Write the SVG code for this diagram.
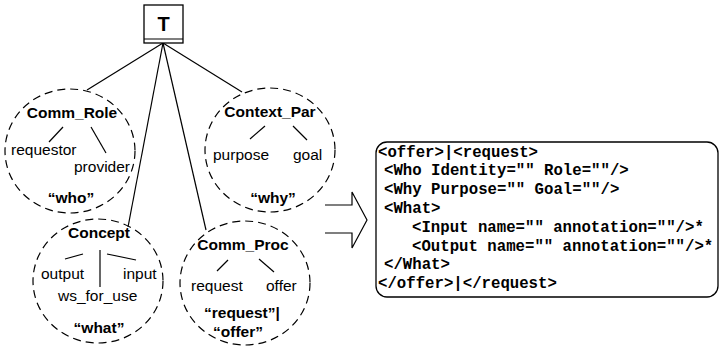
<svg xmlns="http://www.w3.org/2000/svg" width="720" height="349" viewBox="0 0 720 349">
  <style>
    .lbl { font-family: "Liberation Sans", Arial, sans-serif; font-size: 15.5px; fill: #000; }
    .b { font-weight: bold; }
    .mid { text-anchor: middle; }
    .code { font-family: "Liberation Mono", "Courier New", monospace; font-weight: bold; font-size: 15.7px; fill: #000; }
    .ring { fill: none; stroke: #000; stroke-width: 1.2; stroke-dasharray: 8 5; }
    .ln { stroke: #000; stroke-width: 1.2; fill: none; }
  </style>
  <rect width="720" height="349" fill="#fff"/>

  <!-- connectors from the root -->
  <g id="connectors" class="ln">
    <line x1="163" y1="43" x2="87" y2="90"/>
    <line x1="163" y1="43" x2="242" y2="92"/>
    <line x1="163" y1="43" x2="128" y2="227"/>
    <line x1="163" y1="43" x2="206" y2="230"/>
  </g>

  <!-- root -->
  <g id="T">
    <rect x="144" y="5" width="39" height="38" fill="#fff" stroke="#000" stroke-width="1.3"/>
    <line x1="144" y1="39" x2="183" y2="39" class="ln"/>
    <text x="163.5" y="31" class="lbl b mid" style="font-size:20px">T</text>
  </g>

  <!-- who -->
  <g id="Comm_Role">
    <ellipse cx="70" cy="151" rx="65" ry="62" class="ring"/>
    <text x="72" y="118" class="lbl b mid">Comm_Role</text>
    <line x1="63" y1="127" x2="49" y2="142" class="ln"/>
    <line x1="91" y1="127" x2="106" y2="153" class="ln"/>
    <text x="11" y="155" class="lbl">requestor</text>
    <text x="74" y="172" class="lbl">provider</text>
    <text x="71" y="203" class="lbl b mid">“who”</text>
  </g>

  <!-- why -->
  <g id="Context_Par">
    <ellipse cx="270" cy="150" rx="65" ry="62" class="ring"/>
    <text x="270" y="117" class="lbl b mid">Context_Par</text>
    <line x1="265" y1="126" x2="250" y2="139" class="ln"/>
    <line x1="293" y1="126" x2="307" y2="140" class="ln"/>
    <text x="213" y="160" class="lbl">purpose</text>
    <text x="293" y="160" class="lbl">goal</text>
    <text x="273" y="203" class="lbl b mid">“why”</text>
  </g>

  <!-- what -->
  <g id="Concept">
    <ellipse cx="98" cy="281" rx="65" ry="62" class="ring"/>
    <text x="99" y="238" class="lbl b mid">Concept</text>
    <line x1="65" y1="259" x2="83" y2="254" class="ln"/>
    <line x1="100" y1="250" x2="100" y2="287" class="ln"/>
    <line x1="107" y1="254" x2="136" y2="260" class="ln"/>
    <text x="41" y="279" class="lbl">output</text>
    <text x="123" y="279" class="lbl">input</text>
    <text x="58" y="301" class="lbl">ws_for_use</text>
    <text x="99" y="333" class="lbl b mid">“what”</text>
  </g>

  <!-- request / offer -->
  <g id="Comm_Proc">
    <ellipse cx="245" cy="283" rx="65" ry="62" class="ring"/>
    <text x="243" y="250" class="lbl b mid">Comm_Proc</text>
    <line x1="228" y1="260" x2="217" y2="271" class="ln"/>
    <line x1="259" y1="259" x2="274" y2="272" class="ln"/>
    <text x="191" y="291" class="lbl">request</text>
    <text x="266" y="291" class="lbl">offer</text>
    <text x="204" y="318" class="lbl b">“request”|</text>
    <text x="238" y="337" class="lbl b mid">“offer”</text>
  </g>

  <!-- hollow transformation arrow -->
  <g id="arrow">
    <path d="M325,205 H352 V192 L367,220 L352,248 V233 H325" class="ln"/>
  </g>

  <!-- message template -->
  <g id="template">
    <rect x="376" y="142" width="342" height="155" rx="11" fill="#fff" stroke="#000" stroke-width="1.3"/>
    <text x="378" y="156.5" class="code">&lt;offer&gt;|&lt;request&gt;</text>
    <text x="384" y="175.3" class="code">&lt;Who Identity="" Role=""/&gt;</text>
    <text x="384" y="194.1" class="code">&lt;Why Purpose="" Goal=""/&gt;</text>
    <text x="384" y="212.9" class="code">&lt;What&gt;</text>
    <text x="412" y="231.7" class="code">&lt;Input name="" annotation=""/&gt;*</text>
    <text x="412" y="250.5" class="code">&lt;Output name="" annotation=""/&gt;*</text>
    <text x="384" y="269.3" class="code">&lt;/What&gt;</text>
    <text x="378" y="288" class="code">&lt;/offer&gt;|&lt;/request&gt;</text>
  </g>
</svg>
